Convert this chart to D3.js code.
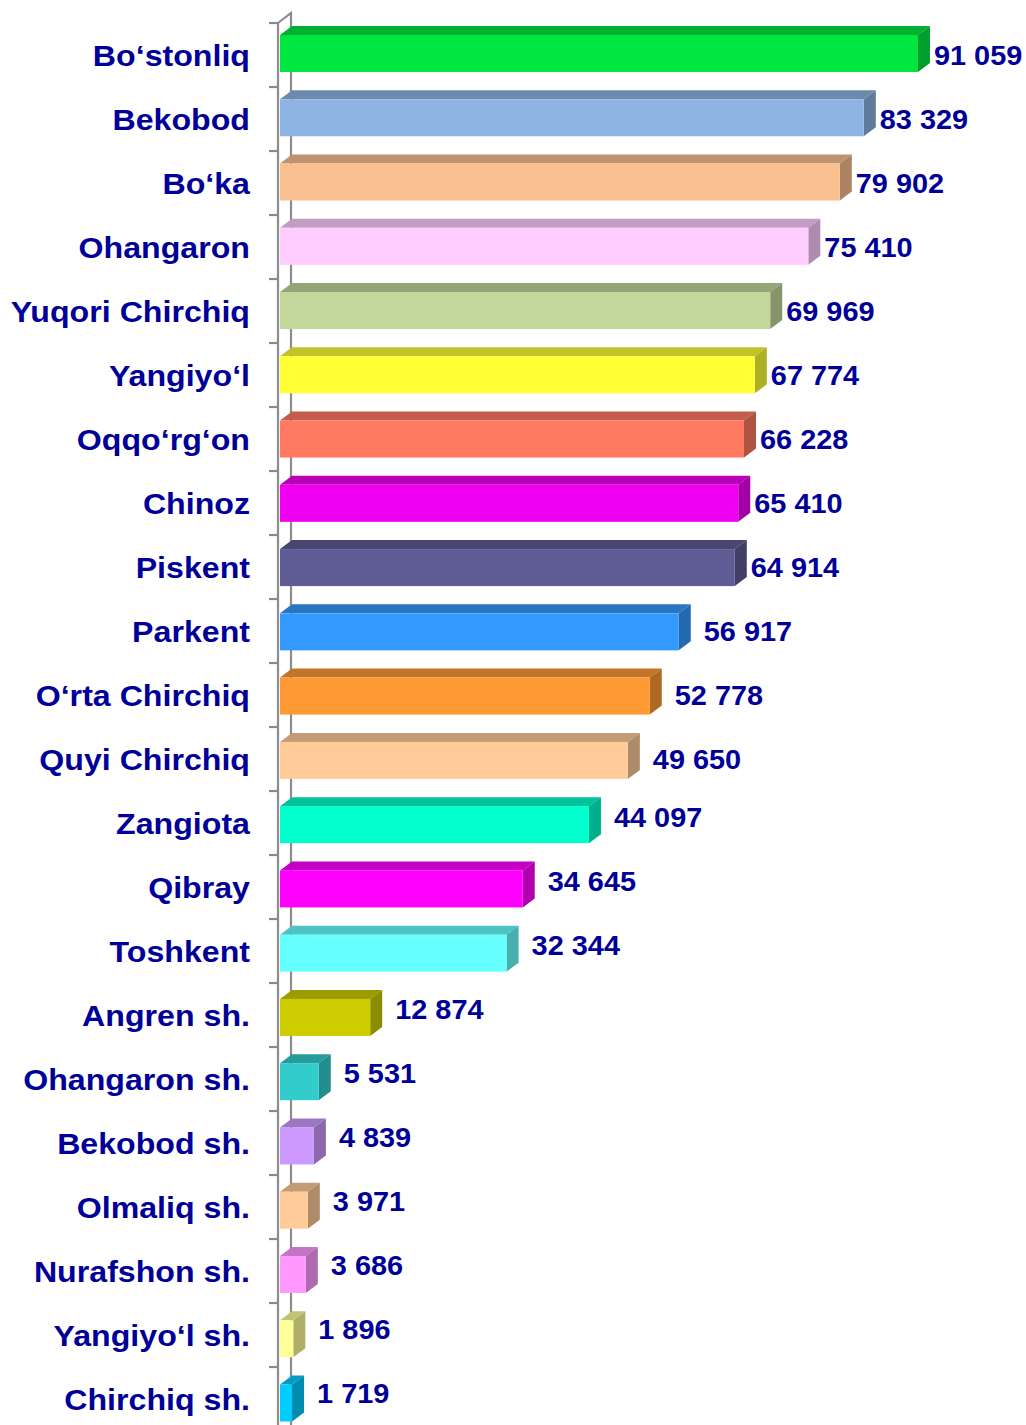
<!DOCTYPE html>
<html>
<head>
<meta charset="utf-8">
<script src="https://cdn.jsdelivr.net/npm/d3@7"></script>
<style>
  body { margin: 0; background: #fff; }
  svg { display: block; }
  text { font-family: "Liberation Sans", Arial, sans-serif; font-weight: bold; fill: #000099; }
</style>
</head>
<body>
<svg id="chart"></svg>
<script>
const CATEGORIES = [
    'Bo‘stonliq', 'Bekobod', 'Bo‘ka', 'Ohangaron', 'Yuqori Chirchiq', 'Yangiyo‘l',
    'Oqqo‘rg‘on', 'Chinoz', 'Piskent', 'Parkent', 'O‘rta Chirchiq', 'Quyi Chirchiq',
    'Zangiota', 'Qibray', 'Toshkent', 'Angren sh.', 'Ohangaron sh.', 'Bekobod sh.',
    'Olmaliq sh.', 'Nurafshon sh.', 'Yangiyo‘l sh.', 'Chirchiq sh.'
];
const VALUES = [
    91059, 83329, 79902, 75410, 69969, 67774,
    66228, 65410, 64914, 56917, 52778, 49650,
    44097, 34645, 32344, 12874, 5531, 4839,
    3971, 3686, 1896, 1719
];
const COLORS = [
    '#00e640', '#8db4e2', '#fac090', '#ffccff', '#c4d79b', '#ffff33',
    '#ff7a60', '#f000f0', '#5f5b94', '#3399ff', '#ff9933', '#ffcc99',
    '#00ffcc', '#ff00ff', '#66ffff', '#cccc00', '#33cccc', '#cc99ff',
    '#ffcc99', '#ff99ff', '#ffff99', '#00ccff'
];

const WIDTH = 1026, HEIGHT = 1425;
const PLOT = {left: 280, top: 23, band: 64};
const DEPTH = {dx: 12, dy: 9};   // 3d offset of the bars
const WALL = {dx: 13, dy: 10};   // 3d offset of the axis wall
const BAR_H = 37;

const data = CATEGORIES.map((c, i) => ({name: c, value: VALUES[i], color: COLORS[i], i}));

const svg = d3.select('#chart').attr('width', WIDTH).attr('height', HEIGHT);

const x = d3.scaleLinear().domain([0, 100000]).range([PLOT.left, PLOT.left + 700.6]);
const y = d3.scaleBand().domain(CATEGORIES)
    .range([PLOT.top, PLOT.top + PLOT.band * CATEGORIES.length]);

const fmt = d3.formatLocale({decimal: '.', thousands: ' ', grouping: [3], currency: ['', '']}).format(',');

// axis wall: back line + top diagonal
const axisX = PLOT.left - 2;
const wall = svg.append('g').attr('stroke', '#8c8c8c').attr('stroke-width', 2.2).attr('fill', 'none');
wall.append('path')
    .attr('d', `M${axisX},${PLOT.top} L${axisX + WALL.dx},${PLOT.top - WALL.dy} L${axisX + WALL.dx},${HEIGHT + 5}`);

// bar center drifts slightly downwards (perspective)
const barTop = d => y(d.name) + y.bandwidth() / 2 - 1.5 + 5.5 * d.i / (CATEGORIES.length - 1) - BAR_H / 2;

const bars = svg.append('g').selectAll('g.bar').data(data).enter()
    .append('g').attr('class', 'bar');

// top face
bars.append('path')
    .attr('fill', d => d3.color(d.color).darker(0.75))
    .attr('d', d => {
        const x0 = x(0), x1 = x(d.value), t = barTop(d);
        return `M${x0},${t} L${x0 + DEPTH.dx},${t - DEPTH.dy} L${x1 + DEPTH.dx},${t - DEPTH.dy} L${x1},${t}Z`;
    });
// side face
bars.append('path')
    .attr('fill', d => d3.color(d.color).darker(1.05))
    .attr('d', d => {
        const x1 = x(d.value), t = barTop(d);
        return `M${x1},${t} L${x1 + DEPTH.dx},${t - DEPTH.dy} L${x1 + DEPTH.dx},${t + BAR_H - DEPTH.dy} L${x1},${t + BAR_H}Z`;
    });
// front face
bars.append('rect')
    .attr('x', x(0))
    .attr('y', d => barTop(d))
    .attr('width', d => x(d.value) - x(0))
    .attr('height', BAR_H)
    .attr('fill', d => d.color);

// front axis line with ticks
const front = svg.append('g').attr('stroke', '#8c8c8c').attr('stroke-width', 2.2);
front.append('line').attr('x1', axisX).attr('x2', axisX).attr('y1', PLOT.top).attr('y2', HEIGHT + 5);
front.selectAll('line.tick').data(d3.range(CATEGORIES.length + 1)).enter()
    .append('line').attr('class', 'tick')
    .attr('x1', axisX - 9).attr('x2', axisX)
    .attr('y1', i => PLOT.top + i * y.step())
    .attr('y2', i => PLOT.top + i * y.step());

// category labels
svg.append('g').selectAll('g').data(data).enter()
    .append('g')
    .attr('transform', d => `translate(250,${y(d.name) + y.bandwidth() / 2 + 10.5}) scale(1.09,1)`)
    .append('text')
    .attr('text-anchor', 'end')
    .style('font-size', '29.5px')
    .text(d => d.name);

// value labels
svg.append('g').selectAll('g').data(data).enter()
    .append('g')
    .attr('transform', d => {
        const gap = d.value > 60000 ? 4 : 13;
        const cy = y(d.name) + y.bandwidth() / 2 - (d.value < 45000 ? 6 : 0);
        return `translate(${x(d.value) + DEPTH.dx + gap},${cy + 9.5}) scale(1.07,1)`;
    })
    .append('text')
    .style('font-size', '27px')
    .text(d => fmt(d.value));
</script>
</body>
</html>
